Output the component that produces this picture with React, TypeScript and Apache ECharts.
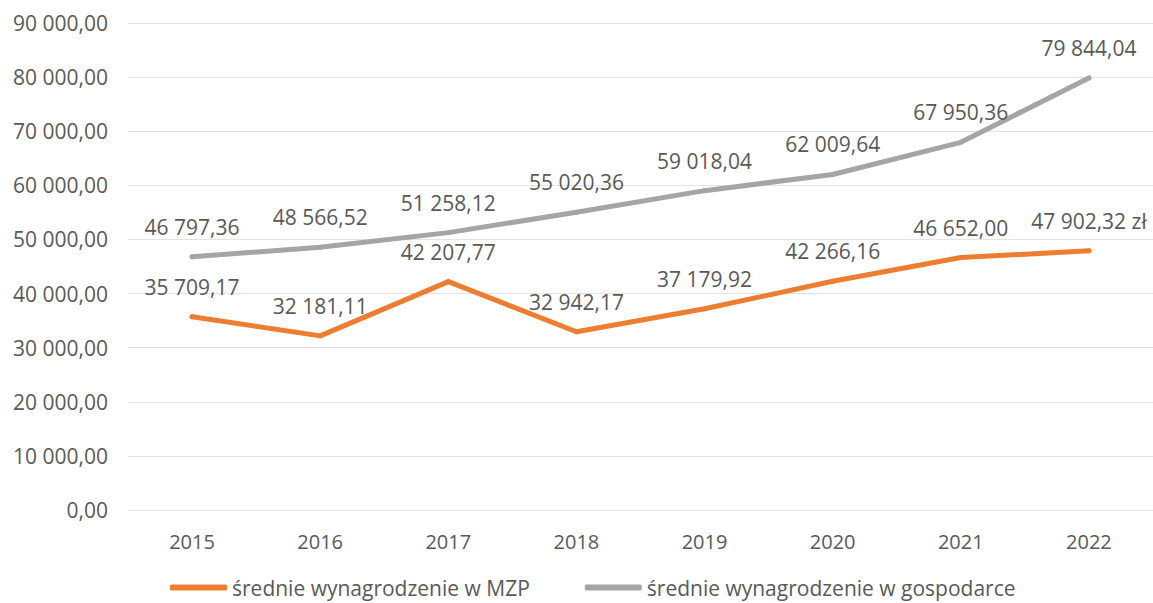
import React, { useEffect, useRef } from "react";
import * as echarts from "echarts";

const years = ["2015", "2016", "2017", "2018", "2019", "2020", "2021", "2022"];
const mzpValues = [35709.17, 32181.11, 42207.77, 32942.17, 37179.92, 42266.16, 46652.0, 47902.32];
const mzpSuffixes = ["", "", "", "", "", "", "", " zł"];
const gospValues = [46797.36, 48566.52, 51258.12, 55020.36, 59018.04, 62009.64, 67950.36, 79844.04];
const seriesNames = ["średnie wynagrodzenie w MZP", "średnie wynagrodzenie w gospodarce"];

const fmt = (v: number) => {
  const [i, d] = v.toFixed(2).split(".");
  return i.replace(/\B(?=(\d{3})+(?!\d))/g, " ") + "," + d;
};

const FONT = "Open Sans";
const TXT = "#595959";

export default function App() {
  const ref = useRef<HTMLDivElement>(null);
  useEffect(() => {
    if (!ref.current) return;
    const chart = echarts.init(ref.current, null, { renderer: "svg" });
    const labelBase = {
      show: true,
      position: "top",
      distance: 17,
      fontFamily: FONT,
      fontSize: 21,
      color: TXT,
    };
    chart.setOption({
      animation: false,
      backgroundColor: "#ffffff",
      textStyle: { fontFamily: FONT, color: TXT },
      grid: { left: 128, right: 0, top: 23, bottom: 93, containLabel: false },
      legend: {
        left: 165,
        top: 572,
        itemWidth: 57,
        itemHeight: 6,
        itemGap: 55,
        icon: "roundRect",
        textStyle: { fontFamily: FONT, fontSize: 21, color: TXT },
        data: [seriesNames[0], seriesNames[1]],
      },
      xAxis: {
        type: "category",
        data: years,
        boundaryGap: true,
        axisLine: { show: false },
        axisTick: { show: false },
        axisLabel: { fontFamily: FONT, fontSize: 20, color: TXT, margin: 21 },
      },
      yAxis: {
        type: "value",
        min: 0,
        max: 90000,
        interval: 10000,
        axisLine: { show: false },
        axisTick: { show: false },
        axisLabel: { fontFamily: FONT, fontSize: 21, color: TXT, margin: 20, formatter: (v: number) => fmt(v) },
        splitLine: { lineStyle: { color: "#e3e3e3", width: 1 } },
      },
      series: [
        {
          name: seriesNames[0],
          type: "line",
          data: mzpValues,
          color: "#ED7D31",
          showSymbol: true,
          symbol: "circle",
          symbolSize: 5,
          itemStyle: { color: "#ED7D31" },
          lineStyle: { width: 5, color: "#ED7D31", cap: "round", join: "round" },
          label: { ...labelBase, formatter: (p: any) => fmt(p.value) + mzpSuffixes[p.dataIndex] },
        },
        {
          name: seriesNames[1],
          type: "line",
          data: gospValues,
          color: "#A5A5A5",
          showSymbol: true,
          symbol: "circle",
          symbolSize: 5,
          itemStyle: { color: "#A5A5A5" },
          lineStyle: { width: 5, color: "#A5A5A5", cap: "round", join: "round" },
          label: { ...labelBase, formatter: (p: any) => fmt(p.value) },
        },
      ],
    });
    return () => chart.dispose();
  }, []);
  return (
    <div
      ref={ref}
      style={{ position: "fixed", left: 0, top: 0, width: 1153, height: 603, background: "#fff" }}
    />
  );
}
